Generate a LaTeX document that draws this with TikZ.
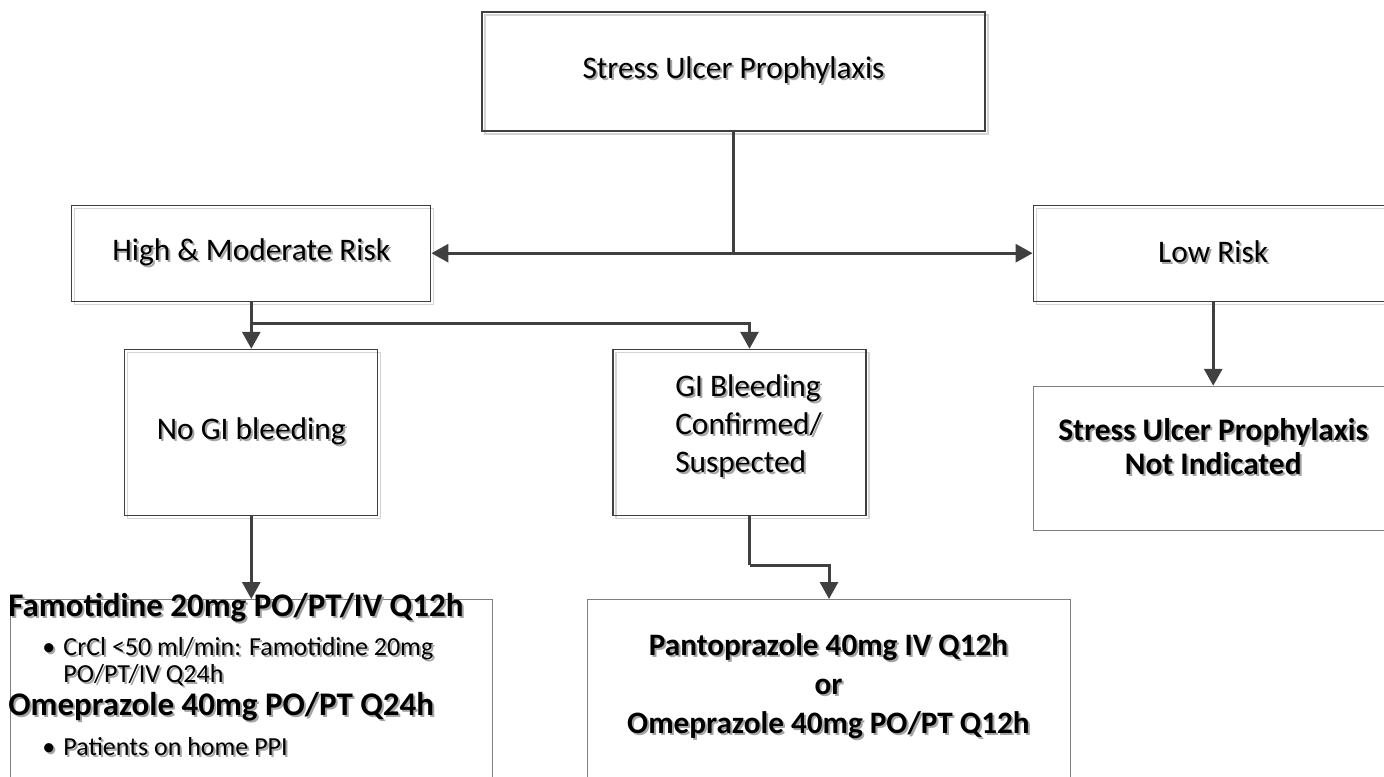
\documentclass[tikz,border=0pt]{standalone}
\usepackage{fontspec}
\setmainfont{Carlito}
\usepackage{xcolor}
\usetikzlibrary{arrows.meta,positioning,calc}

\definecolor{linegray}{HTML}{404040}
\definecolor{framegray}{HTML}{7F7F7F}
\definecolor{textshade}{HTML}{A5A5A5}
\definecolor{boxshade}{HTML}{D4D4D4}

\newcommand{\shtxt}[1]{\makebox[0pt][l]{\kern1pt\raisebox{-1pt}{\color{textshade}#1}}#1}

\begin{document}
\begin{tikzpicture}[
  x=0.5pt, y=-0.5pt,
  font=\fontsize{15.7}{19}\selectfont,
  riskbox/.style={rectangle, draw=linegray, line width=0.6pt, inner sep=2pt,
    preaction={draw=boxshade, line width=0.6pt,
               transform canvas={shift={(1.5pt,-1.5pt)}}}},
  dosebox/.style={rectangle, draw=framegray, line width=0.6pt, inner sep=0pt},
  flow/.style={draw=linegray, line width=1.5pt,
    -{Triangle[width=9pt,length=8.5pt]}},
  link/.style={draw=linegray, line width=1.5pt},
  dose/.style={font=\fontsize{16.5}{20}\selectfont\bfseries, inner sep=0pt,
    anchor=base west},
  note/.style={font=\fontsize{13}{13}\selectfont, inner sep=0pt,
    anchor=base west},
]
  \useasboundingbox (0,0) rectangle (1384,776);
  \clip (0,0) rectangle (1384,776);

  % risk levels
  \node[riskbox, minimum width=251.5pt, minimum height=59.5pt] (top)
    at (733.5,71.5) {\shtxt{Stress Ulcer Prophylaxis}};
  \node[riskbox, minimum width=179.5pt, minimum height=48pt,
    below left=36.5pt and 25pt of top] (high) {\shtxt{High \& Moderate Risk}};
  \node[riskbox, minimum width=180pt, minimum height=48pt,
    below right=36.5pt and 23.5pt of top] (low) {\shtxt{Low Risk}};

  % bleeding status
  \node[riskbox, minimum width=126.5pt, minimum height=83pt,
    below=23.5pt of high] (nogi) {\shtxt{No GI bleeding}};
  \node[riskbox, minimum width=126.5pt, minimum height=83pt,
    right=117pt of nogi,
    label={[xshift=4.5pt, yshift=2.5pt]center:{\shtxt{\begin{tabular}{@{}l@{}}GI Bleeding\\Confirmed/\\Suspected\end{tabular}}}}] (gi) {};
  \node[dosebox, minimum width=180pt, minimum height=72pt,
    below=42pt of low,
    label={[font=\fontsize{15.7}{17}\selectfont\bfseries, yshift=3.5pt]center:{\shtxt{\begin{tabular}{@{}c@{}}Stress Ulcer Prophylaxis\\Not Indicated\end{tabular}}}}] (notind) {};

  % regimens
  \node[dosebox, minimum width=241pt, minimum height=112pt,
    below=41.5pt of nogi] (famo) {};
  \node[dosebox, minimum width=241.5pt, minimum height=112pt,
    right=47pt of famo] (panto) {};

  \node[dose] (famohead) at (8,616) {\shtxt{Famotidine 20mg PO/PT/IV Q12h}};
  \node[note] (famodot) at (42,655) {\shtxt{\textbullet}};
  \node[note] (famonote) at (63,655) {\shtxt{CrCl <50 ml/min: Famotidine 20mg}};
  \node[note] (famonote2) at (63,682) {\shtxt{PO/PT/IV Q24h}};
  \node[dose] (omehead) at (8,715) {\shtxt{Omeprazole 40mg PO/PT Q24h}};
  \node[note] (omedot) at (42,755) {\shtxt{\textbullet}};
  \node[note] (omenote) at (63,755) {\shtxt{Patients on home PPI}};
  \node[font=\fontsize{15.6}{19.5}\selectfont\bfseries] (pantotext) at (828.5,688)
    {\shtxt{\begin{tabular}{@{}c@{}}Pantoprazole 40mg IV Q12h\\or\\Omeprazole 40mg PO/PT Q12h\end{tabular}}};

  % connectors
  \coordinate (split) at (top.south |- high.east);
  \coordinate (fork) at ($(high.south)+(0,22)$);
  \coordinate (jog) at ($([xshift=5pt]gi.south)+(0,49)$);

  \draw[link] (top.south) -- (split);
  \draw[flow] (split) -- (high.east);
  \draw[flow] (split) -- (low.west);
  \draw[flow] (high.south) -- (high.south |- nogi.north);
  \draw[flow] (fork) -| ([xshift=5pt]gi.north);
  \draw[flow] (low.south) -- (low.south |- notind.north);
  \draw[flow] (nogi.south) -- (nogi.south |- famo.north);
  \draw[link] ([xshift=5pt]gi.south) -- (jog);
  \draw[flow] (jog) -| (panto.north);
\end{tikzpicture}
\end{document}
